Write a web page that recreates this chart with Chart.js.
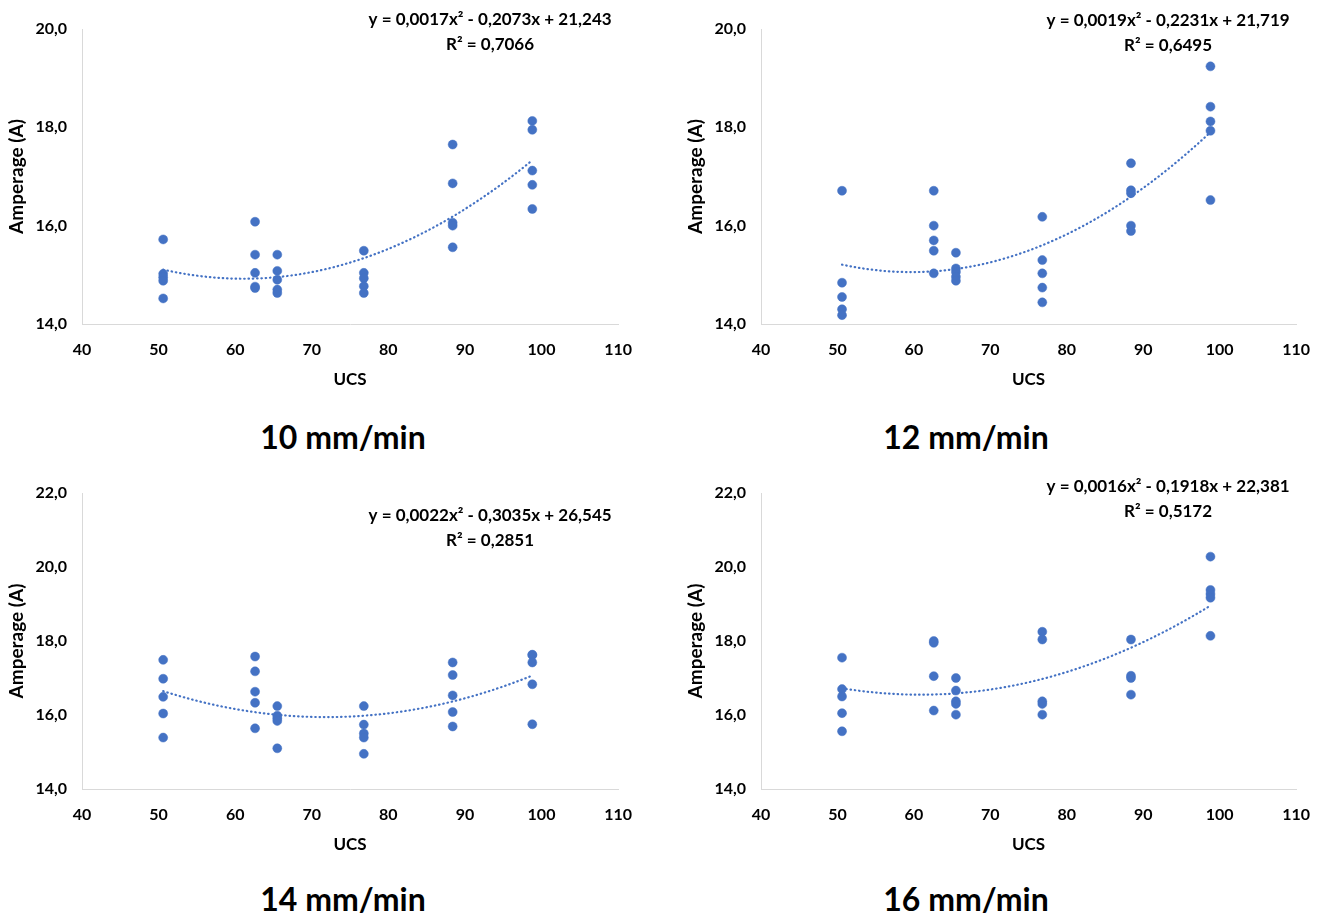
<!DOCTYPE html>
<html>
<head>
<meta charset="utf-8">
<script src="https://cdn.jsdelivr.net/npm/chart.js@4.4.1/dist/chart.umd.min.js"></script>
<style>
  body { margin: 0; background: #fff; width: 1322px; height: 919px; overflow: hidden; position: relative; font-family: Lato, sans-serif; }
  canvas { position: absolute; }
  .speed { position: absolute; width: 300px; text-align: center; font-weight: bold; font-size: 32px; line-height: 36px; color: #000; }
</style>
</head>
<body>
<canvas id="c10" width="648" height="400" style="left:0;top:0"></canvas>
<canvas id="c12" width="647" height="400" style="left:679px;top:0"></canvas>
<canvas id="c14" width="648" height="400" style="left:0;top:465px"></canvas>
<canvas id="c16" width="647" height="400" style="left:679px;top:465px"></canvas>
<div class="speed" style="left:193px;top:419px">10 mm/min</div>
<div class="speed" style="left:816px;top:419px">12 mm/min</div>
<div class="speed" style="left:193px;top:881px">14 mm/min</div>
<div class="speed" style="left:816px;top:881px">16 mm/min</div>
<script>
  'use strict'
  // UCS of the six rock samples (x categories)
  var ucs = [50.6, 62.6, 65.5, 76.8, 88.4, 98.8];

  // amperage readings per sample, one array per feed rate
  var amp10 = [
    [15.72, 15.02, 14.95, 14.88, 14.52],
    [16.08, 15.41, 15.04, 14.76, 14.73],
    [15.41, 15.08, 14.90, 14.70, 14.63],
    [15.49, 15.04, 14.93, 14.77, 14.63],
    [17.65, 16.86, 16.06, 16.00, 15.56],
    [18.13, 17.95, 17.12, 16.83, 16.34]
  ];
  var amp12 = [
    [16.71, 14.84, 14.55, 14.30, 14.18],
    [16.71, 16.00, 15.70, 15.49, 15.03],
    [15.45, 15.13, 15.06, 14.96, 14.88],
    [16.18, 15.30, 15.03, 14.74, 14.44],
    [17.27, 16.72, 16.66, 16.00, 15.89],
    [19.24, 18.42, 18.12, 17.93, 16.52]
  ];
  var amp14 = [
    [17.49, 16.98, 16.49, 16.04, 15.39],
    [17.58, 17.18, 16.63, 16.33, 15.64],
    [16.24, 15.98, 15.91, 15.84, 15.10],
    [16.24, 15.74, 15.50, 15.39, 14.95],
    [17.42, 17.08, 16.53, 16.08, 15.69],
    [17.63, 17.62, 17.42, 16.83, 15.75]
  ];
  var amp16 = [
    [17.55, 16.70, 16.50, 16.05, 15.56],
    [18.00, 17.95, 17.05, 16.12],
    [17.00, 16.66, 16.37, 16.30, 16.01],
    [18.25, 18.04, 16.37, 16.30, 16.01],
    [18.04, 17.06, 17.00, 16.55],
    [20.28, 19.38, 19.27, 19.17, 18.14]
  ];

  // trendline labels as printed on each chart
  var eq10 = ['y = 0,0017x² - 0,2073x + 21,243', 'R² = 0,7066'];
  var eq12 = ['y = 0,0019x² - 0,2231x + 21,719', 'R² = 0,6495'];
  var eq14 = ['y = 0,0022x² - 0,3035x + 26,545', 'R² = 0,2851'];
  var eq16 = ['y = 0,0016x² - 0,1918x + 22,381', 'R² = 0,5172'];

  // tick labels
  var xTicks = [40, 50, 60, 70, 80, 90, 100, 110];
  var yTicksTop = [14, 16, 18, 20];
  var yTicksBottom = [14, 16, 18, 20, 22];

  var blue = '#4472C4';
  var font = 'Lato';

  // least squares fit y = a x^2 + b x + c (same as Excel's polynomial trendline)
  function quadFit(xs, ys) {
    var s = [0, 0, 0, 0, 0], t = [0, 0, 0], i, k, p;
    for (i = 0; i < xs.length; i++) {
      p = 1;
      for (k = 0; k < 5; k++) { s[k] += p; p *= xs[i]; }
      t[0] += ys[i];
      t[1] += ys[i] * xs[i];
      t[2] += ys[i] * xs[i] * xs[i];
    }
    var m = [[s[4], s[3], s[2]], [s[3], s[2], s[1]], [s[2], s[1], s[0]]];
    var r = [t[2], t[1], t[0]];
    function det(a) {
      return a[0][0] * (a[1][1] * a[2][2] - a[1][2] * a[2][1]) -
        a[0][1] * (a[1][0] * a[2][2] - a[1][2] * a[2][0]) +
        a[0][2] * (a[1][0] * a[2][1] - a[1][1] * a[2][0]);
    }
    var d = det(m), out = [];
    for (k = 0; k < 3; k++) {
      var mk = m.map(function (row, j) { var c = row.slice(); c[k] = r[j]; return c; });
      out.push(det(mk) / d);
    }
    return out;
  }

  var eqPlugin = {
    id: 'eqText',
    afterDraw: function (chart, args, opts) {
      var ctx = chart.ctx, a = chart.chartArea;
      ctx.save();
      ctx.font = 'bold 17px ' + font;
      ctx.fillStyle = '#000';
      ctx.textAlign = 'center';
      ctx.textBaseline = 'middle';
      ctx.fillText(opts.lines[0], a.right - 128, a.top + opts.dy);
      ctx.fillText(opts.lines[1], a.right - 128, a.top + opts.dy + 25);
      ctx.restore();
    }
  };

  function makeChart(id, amps, eq, yTicks, padTop, eqDy) {
    var pts = [], xs = [], ys = [];
    ucs.forEach(function (u, i) {
      amps[i].forEach(function (v) {
        pts.push({ x: u, y: v });
        xs.push(u);
        ys.push(v);
      });
    });
    var f = quadFit(xs, ys);
    var lo = Math.min.apply(null, xs), hi = Math.max.apply(null, xs), trend = [], n = 60, j;
    for (j = 0; j <= n; j++) {
      var x = lo + (hi - lo) * j / n;
      trend.push({ x: x, y: f[0] * x * x + f[1] * x + f[2] });
    }

    return new Chart(document.getElementById(id), {
      type: 'scatter',
      data: {
        datasets: [{
          data: pts,
          backgroundColor: blue,
          borderColor: blue,
          pointRadius: 4.5,
          pointBorderWidth: 0.5,
          order: 1
        }, {
          type: 'line',
          data: trend,
          borderColor: blue,
          borderWidth: 2.2,
          borderDash: [0.5, 3.8],
          borderCapStyle: 'round',
          pointRadius: 0,
          fill: false,
          tension: 0,
          order: 0
        }]
      },
      options: {
        responsive: false,
        animation: false,
        events: [],
        layout: { padding: { top: padTop, right: 8, left: 0, bottom: 0 } },
        plugins: {
          legend: { display: false },
          tooltip: { enabled: false },
          eqText: { lines: eq, dy: eqDy }
        },
        scales: {
          x: {
            type: 'linear',
            min: xTicks[0],
            max: xTicks[xTicks.length - 1],
            afterBuildTicks: function (s) { s.ticks = xTicks.map(function (v) { return { value: v }; }); },
            afterFit: function (s) { s.height = 76; },
            grid: { display: false, drawTicks: false },
            border: { display: true, color: '#d9d9d9', width: 1 },
            ticks: { padding: 16, color: '#000', font: { family: font, size: 16, weight: 'bold' } },
            title: { display: true, text: 'UCS', color: '#000', padding: { top: 0, bottom: 10 }, font: { family: font, size: 17, weight: 'bold' } }
          },
          y: {
            min: yTicks[0],
            max: yTicks[yTicks.length - 1],
            afterBuildTicks: function (s) { s.ticks = yTicks.map(function (v) { return { value: v }; }); },
            afterFit: function (s) { s.width = 82; },
            grid: { display: false, drawTicks: false },
            border: { display: true, color: '#d9d9d9', width: 1 },
            ticks: {
              padding: 15,
              color: '#000',
              font: { family: font, size: 16, weight: 'bold' },
              callback: function (v) { return v.toFixed(1).replace('.', ','); }
            },
            title: { display: true, text: 'Amperage (A)', color: '#000', padding: { top: 5, bottom: 0 }, font: { family: font, size: 19, weight: 'bold' } }
          }
        }
      },
      plugins: [eqPlugin]
    });
  }

  makeChart('c10', amp10, eq10, yTicksTop, 29, -9);
  makeChart('c12', amp12, eq12, yTicksTop, 29, -8);
  makeChart('c14', amp14, eq14, yTicksBottom, 28, 23);
  makeChart('c16', amp16, eq16, yTicksBottom, 28, -6);
</script>
</body>
</html>
